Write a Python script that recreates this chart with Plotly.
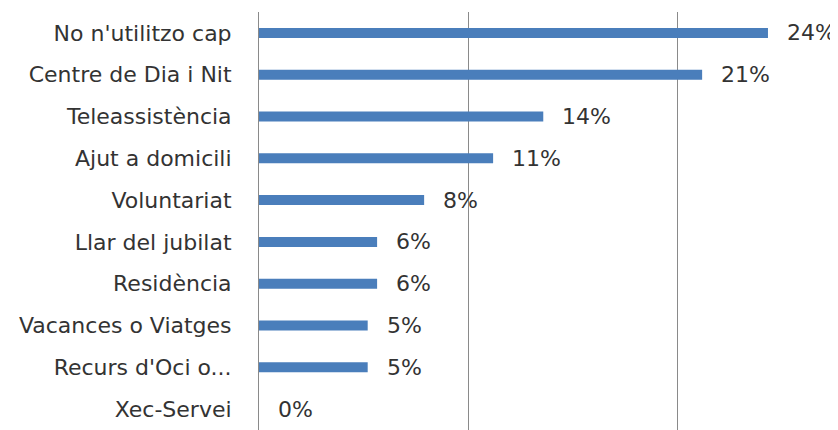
import plotly.graph_objects as go

categories = ["No n'utilitzo cap", "Centre de Dia i Nit", "Teleassistència", "Ajut a domicili",
              "Voluntariat", "Llar del jubilat", "Residència", "Vacances o Viatges",
              "Recurs d'Oci o...", "Xec-Servei"]
values = [24.35, 21.2, 13.6, 11.2, 7.9, 5.65, 5.65, 5.2, 5.2, 0.0]
labels = ["24%", "21%", "14%", "11%", "8%", "6%", "6%", "5%", "5%", "0%"]

FONT = "DejaVu Sans"
TXT = "#333333"

fig = go.Figure()
fig.add_trace(go.Bar(
    y=categories, x=values, orientation="h",
    marker=dict(color="#4A7EBB", line=dict(width=0)),
    width=0.24,
))

for c, v, t in zip(categories, values, labels):
    fig.add_annotation(x=v, y=c, text=t, showarrow=False, xanchor="left",
                       xshift=17, font=dict(family=FONT, size=22, color=TXT))

# page body has an 8px default margin, so the figure is sized 8px smaller
fig.update_layout(
    width=830, height=422,
    margin=dict(l=251, r=0, t=4, b=0, autoexpand=False),
    paper_bgcolor="white", plot_bgcolor="white",
    showlegend=False,
    bargap=0.76,
)
fig.update_xaxes(range=[0, 27.7], tickvals=[10, 20], showticklabels=False,
                 showgrid=True, gridcolor="#8a8a8a", gridwidth=1, zeroline=False,
                 showline=False, automargin=False)
fig.update_yaxes(categoryorder="array", categoryarray=categories[::-1],
                 autorange=False, range=[-0.5, 9.5],
                 showline=True, linecolor="#8a8a8a", linewidth=1,
                 ticks="", ticklabelstandoff=22, automargin=False,
                 tickfont=dict(family=FONT, size=22, color=TXT), showgrid=False)

fig.write_html("out.html")
